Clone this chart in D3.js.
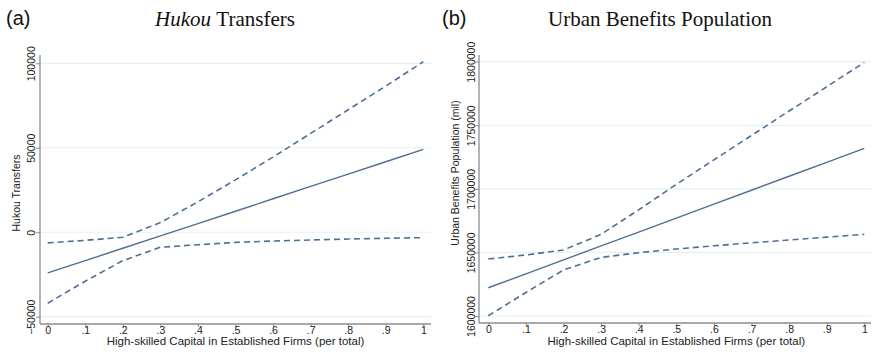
<!DOCTYPE html>
<html>
<head>
<meta charset="utf-8">
<script src="https://cdn.jsdelivr.net/npm/d3@7/dist/d3.min.js"></script>
<style>
body { margin: 0; background: #fff; }
svg { display: block; }
</style>
</head>
<body>
<svg id="chart" width="873" height="359"></svg>
<script>
// x positions (share of high-skilled capital) and tick labels
var xVals = [0, .1, .2, .3, .4, .5, .6, .7, .8, .9, 1];
var xTickLabels = ["0", ".1", ".2", ".3", ".4", ".5", ".6", ".7", ".8", ".9", "1"];

// panel (a) Hukou transfers
var hukouFit   = [-24100, -16800, -9500, -2200, 5100, 12400, 19800, 27100, 34400, 41700, 49000];
var hukouUpper = [-6300, -4800, -3000, 5700, 18000, 31000, 44500, 58500, 72500, 86500, 100900];
var hukouLower = [-42000, -29000, -16800, -8900, -7400, -6000, -5200, -4600, -4000, -3600, -3200];
var hukouTicks = [-50000, 0, 50000, 100000];

// panel (b) urban benefits population
var urbanFit   = [1622200, 1633200, 1644100, 1655100, 1666000, 1677000, 1688000, 1698900, 1709900, 1720800, 1731800];
var urbanUpper = [1644800, 1648000, 1651900, 1664200, 1683500, 1703500, 1722800, 1742000, 1761200, 1780300, 1799400];
var urbanLower = [1600200, 1618500, 1636200, 1646100, 1649800, 1652700, 1655200, 1657600, 1659800, 1662000, 1664200];
var urbanTicks = [1600000, 1650000, 1700000, 1750000, 1800000];

var lineColor = "#4e6f95";
var gridColor = "#e6f0f2";
var axisColor = "#8c8c8c";
var sans = "'Liberation Sans', Arial, sans-serif";
var serif = "'Liberation Serif', 'DejaVu Serif', serif";

var svg = d3.select("#chart");

function drawPanel(p)
{
	var g = svg.append("g");

	var x = d3.scaleLinear().domain([0, 1]).range([p.x0, p.x1]);
	var y = d3.scaleLinear().domain([p.yTicks[0], p.yTicks[p.yTicks.length - 1]]).range([p.yBot, p.yTop]);

	// grid
	g.selectAll(".grid").data(p.yTicks).enter().append("line")
		.attr("x1", p.left).attr("x2", p.right)
		.attr("y1", function(d){ return y(d); })
		.attr("y2", function(d){ return y(d); })
		.attr("stroke", gridColor).attr("stroke-width", 1.2);

	// y axis, labels turned on their side like Stata does
	var yAxis = d3.axisLeft(y).tickValues(p.yTicks).tickSize(4).tickFormat(d3.format("d"));
	var ya = g.append("g").attr("transform", "translate(" + p.left + ",0)").call(yAxis);
	ya.select(".domain").remove();
	ya.append("line").attr("x1", 0).attr("x2", 0).attr("y1", p.frameTop).attr("y2", p.frameBot)
		.attr("stroke", axisColor).attr("stroke-width", 1.3);
	ya.selectAll(".tick line").attr("stroke", axisColor);
	ya.selectAll(".tick text")
		.attr("font-family", sans).attr("font-size", 10.5).attr("fill", "#222")
		.attr("text-anchor", "middle").attr("dy", 0)
		.attr("transform", "rotate(-90)").attr("x", 0).attr("y", -p.labelOff);

	// x axis
	var xAxis = d3.axisBottom(x).tickValues(xVals).tickSize(3)
		.tickFormat(function(d, i){ return xTickLabels[i]; });
	var xa = g.append("g").attr("transform", "translate(0," + p.frameBot + ")").call(xAxis);
	xa.select(".domain").remove();
	xa.append("line").attr("x1", p.left).attr("x2", p.right).attr("y1", 0).attr("y2", 0)
		.attr("stroke", axisColor).attr("stroke-width", 1.3);
	xa.selectAll(".tick line").attr("stroke", axisColor);
	xa.selectAll(".tick text").attr("font-family", sans).attr("font-size", 10.5).attr("fill", "#222")
		.attr("y", 9.5).attr("dy", 0);

	// series
	var line = d3.line().x(function(d, i){ return x(xVals[i]); }).y(function(d){ return y(d); });
	g.append("path").datum(p.upper).attr("d", line).attr("fill", "none")
		.attr("stroke", lineColor).attr("stroke-width", 1.6).attr("stroke-dasharray", "6,4");
	g.append("path").datum(p.lower).attr("d", line).attr("fill", "none")
		.attr("stroke", lineColor).attr("stroke-width", 1.6).attr("stroke-dasharray", "6,4");
	g.append("path").datum(p.fit).attr("d", line).attr("fill", "none")
		.attr("stroke", lineColor).attr("stroke-width", 1.4);

	// axis titles
	g.append("text").attr("x", (p.x0 + p.x1) / 2).attr("y", 344.5)
		.attr("text-anchor", "middle").attr("font-family", sans).attr("font-size", 11.5).attr("fill", "#222")
		.text("High-skilled Capital in Established Firms (per total)");
	g.append("text").attr("transform", "translate(" + p.ytX + "," + p.ytY + ") rotate(-90)")
		.attr("text-anchor", "middle").attr("font-family", sans).attr("font-size", 10.5).attr("fill", "#222")
		.text(p.yTitle);

	// panel letter and heading
	g.append("text").attr("x", p.letterX).attr("y", 25).attr("font-family", sans)
		.attr("font-size", 20).attr("fill", "#111").text(p.letter);
	var t = g.append("text").attr("x", p.titleX).attr("y", 26).attr("text-anchor", "middle")
		.attr("font-family", serif).attr("font-size", 21).attr("fill", "#111");
	if (p.titleItalic) t.append("tspan").attr("font-style", "italic").text(p.titleItalic + " ");
	t.append("tspan").text(p.title);
}

drawPanel({
	left: 40, right: 431, frameTop: 55, frameBot: 324,
	x0: 47.7, x1: 423.3, yTop: 63.3, yBot: 316.7,
	yTicks: hukouTicks, fit: hukouFit, upper: hukouUpper, lower: hukouLower,
	labelOff: 5, ytX: 20, ytY: 193, yTitle: "Hukou Transfers",
	letter: "(a)", letterX: 6, titleX: 225, titleItalic: "Hukou", title: "Transfers"
});

drawPanel({
	left: 479, right: 871, frameTop: 55, frameBot: 323,
	x0: 488.3, x1: 864.3, yTop: 61.7, yBot: 316,
	yTicks: urbanTicks, fit: urbanFit, upper: urbanUpper, lower: urbanLower,
	labelOff: 4, ytX: 459, ytY: 173, yTitle: "Urban Benefits Population (mil)",
	letter: "(b)", letterX: 442, titleX: 660, titleItalic: null, title: "Urban Benefits Population"
});
</script>
</body>
</html>
